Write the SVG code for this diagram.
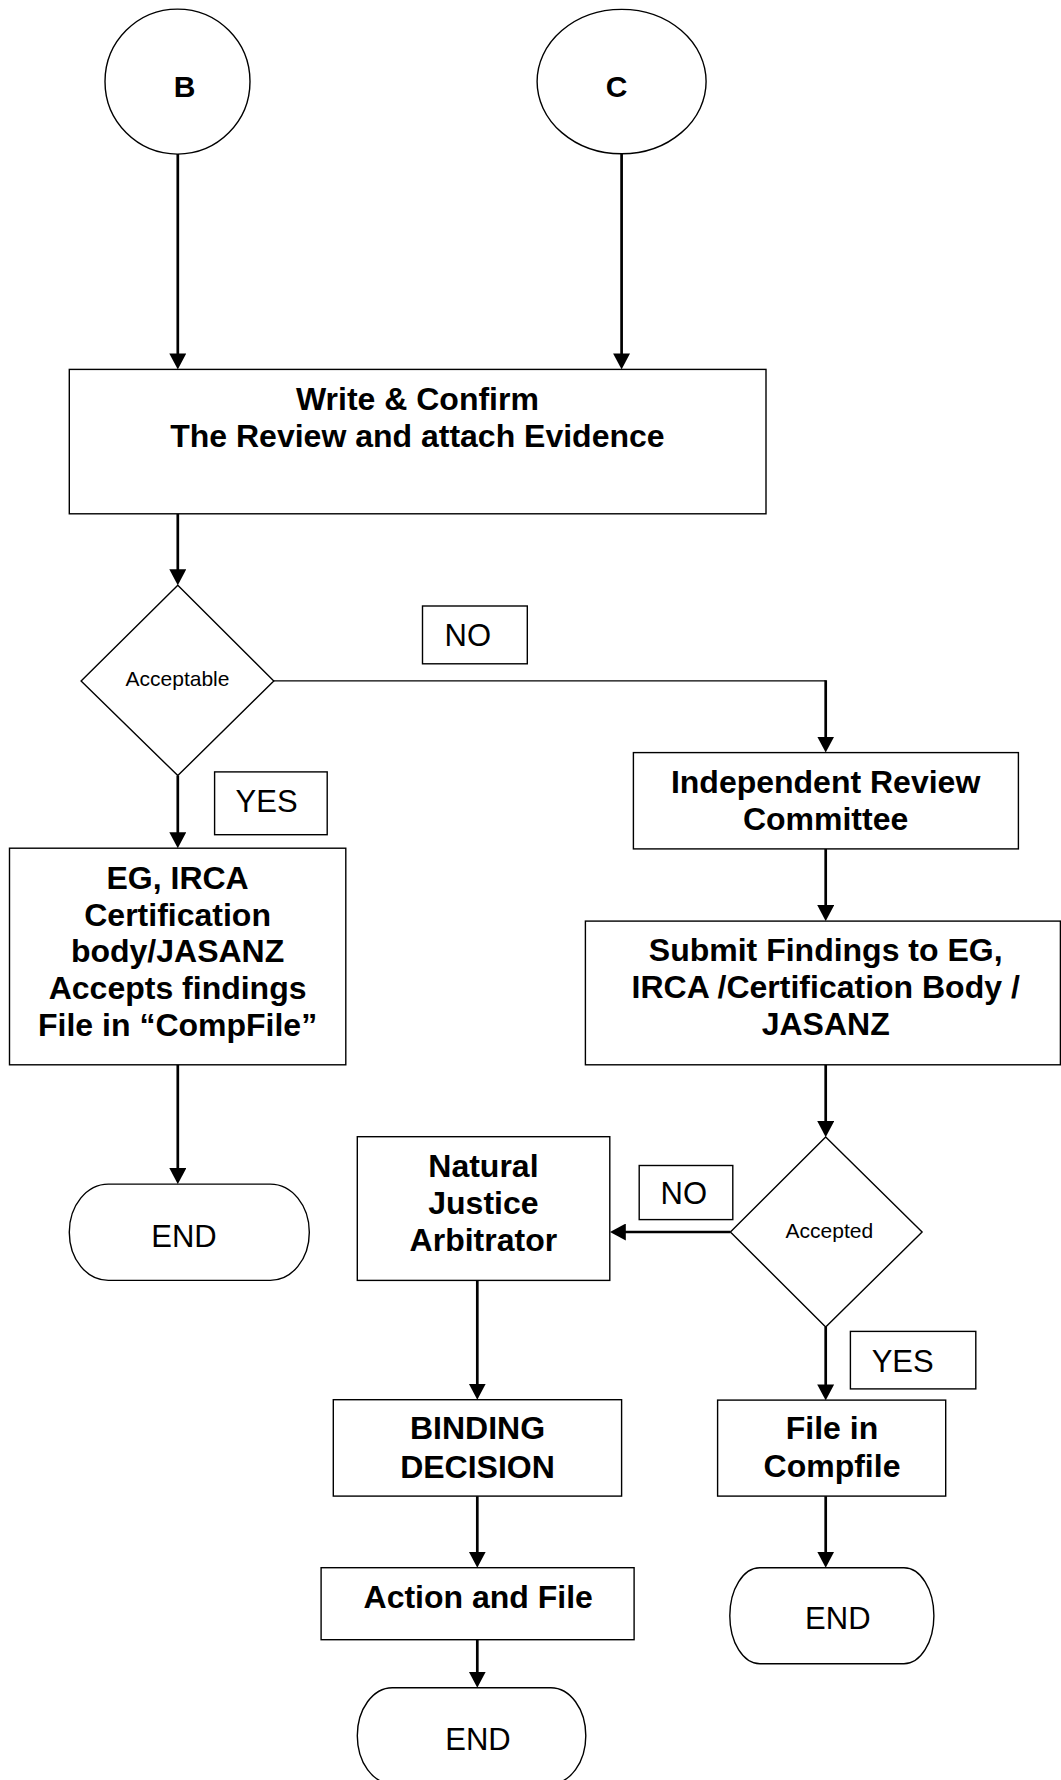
<svg xmlns="http://www.w3.org/2000/svg" width="1061" height="1780" viewBox="0 0 1061 1780">
<style>
.box{fill:#fff;stroke:#000;stroke-width:1.4}
.conn{fill:none;stroke:#000;stroke-width:2.7}
.thin{stroke-width:1.4}
.b{font-family:"Liberation Sans",Arial,sans-serif;font-weight:bold;font-size:32px;text-anchor:middle;fill:#000}
.bc{font-family:"Liberation Sans",Arial,sans-serif;font-weight:bold;font-size:30px;text-anchor:middle;fill:#000}
.r{font-family:"Liberation Sans",Arial,sans-serif;font-size:31px;fill:#000}
.rm{font-family:"Liberation Sans",Arial,sans-serif;font-size:31px;text-anchor:middle;fill:#000}
.s{font-family:"Liberation Sans",Arial,sans-serif;font-size:21px;text-anchor:middle;fill:#000}
</style>
<defs>
<marker id="ah" markerUnits="userSpaceOnUse" markerWidth="16" markerHeight="17" viewBox="0 0 16 17" refX="8" refY="8.5" orient="auto">
<path d="M0,0 L16,8.5 L0,17 z" fill="#000"/>
</marker>
</defs>
<rect width="1061" height="1780" fill="#fff"/>

<g id="connectors">
<path class="conn" d="M177.8,153.8 V361.4" marker-end="url(#ah)"/>
<path class="conn" d="M621.6,153.8 V361.4" marker-end="url(#ah)"/>
<path class="conn" d="M177.8,513.8 V577.3" marker-end="url(#ah)"/>
<path class="conn" d="M177.8,775.6 V840.2" marker-end="url(#ah)"/>
<path class="conn thin" d="M273.8,680.9 H825.7"/>
<path class="conn" d="M825.7,680.2 V744.6" marker-end="url(#ah)"/>
<path class="conn" d="M825.7,848.9 V913.1" marker-end="url(#ah)"/>
<path class="conn" d="M825.7,1064.8 V1129.1" marker-end="url(#ah)"/>
<path class="conn" d="M730.4,1232 H617.8" marker-end="url(#ah)"/>
<path class="conn" d="M825.7,1327 V1392.4" marker-end="url(#ah)"/>
<path class="conn" d="M825.7,1496.1 V1559.7" marker-end="url(#ah)"/>
<path class="conn" d="M177.8,1064.8 V1176.1" marker-end="url(#ah)"/>
<path class="conn" d="M477.3,1280.4 V1391.7" marker-end="url(#ah)"/>
<path class="conn" d="M477.3,1496.1 V1559.7" marker-end="url(#ah)"/>
<path class="conn" d="M477.3,1639.7 V1679.7" marker-end="url(#ah)"/>
</g>

<g id="nodeB">
<circle class="box" cx="177.5" cy="81.6" r="72.5"/>
<text class="bc" x="184.5" y="97.3">B</text>
</g>
<g id="nodeC">
<ellipse class="box" cx="621.6" cy="81.6" rx="84.5" ry="72.2"/>
<text class="bc" x="616.7" y="97.3">C</text>
</g>
<g id="writeConfirm">
<rect class="box" x="69.3" y="369.4" width="696.7" height="144.4"/>
<text class="b" x="417.4" y="410">Write &amp; Confirm</text>
<text class="b" x="417.4" y="446.8">The Review and attach Evidence</text>
</g>
<g id="acceptable">
<polygon class="box" points="177.8,585.3 273.8,680.9 177.8,775.6 81.1,680.9"/>
<text class="s" x="177.5" y="685.7">Acceptable</text>
</g>
<g id="labelNo1">
<rect class="box" x="422.5" y="606" width="104.8" height="57.8"/>
<text class="r" x="444.5" y="646.1">NO</text>
</g>
<g id="labelYes1">
<rect class="box" x="214.6" y="771.9" width="112.6" height="62.8"/>
<text class="r" x="235.6" y="811.7">YES</text>
</g>
<g id="egAccepts">
<rect class="box" x="9.5" y="848.2" width="336.3" height="216.6"/>
<text class="b" x="177.6" y="888.5">EG, IRCA</text>
<text class="b" x="177.6" y="925.5">Certification</text>
<text class="b" x="177.6" y="962.3">body/JASANZ</text>
<text class="b" x="177.6" y="999.2">Accepts findings</text>
<text class="b" x="177.6" y="1036.1">File in “CompFile”</text>
</g>
<g id="end1">
<rect class="box" x="69.3" y="1184.1" width="240" height="96.3" rx="39" ry="48"/>
<text class="rm" x="184" y="1247.3">END</text>
</g>
<g id="irc">
<rect class="box" x="633.4" y="752.6" width="385" height="96.3"/>
<text class="b" x="825.6" y="793.1">Independent Review</text>
<text class="b" x="825.6" y="830.3">Committee</text>
</g>
<g id="submit">
<rect class="box" x="585.4" y="921.1" width="475" height="143.7"/>
<text class="b" x="825.7" y="961">Submit Findings to EG,</text>
<text class="b" x="825.7" y="997.9">IRCA /Certification Body /</text>
<text class="b" x="825.7" y="1034.8">JASANZ</text>
</g>
<g id="accepted">
<polygon class="box" points="825.7,1137.1 922.1,1232 825.7,1327 730.4,1232"/>
<text class="s" x="829.3" y="1238.1">Accepted</text>
</g>
<g id="labelNo2">
<rect class="box" x="639.2" y="1165.5" width="93.6" height="54.1"/>
<text class="r" x="660.5" y="1204.4">NO</text>
</g>
<g id="natural">
<rect class="box" x="357.3" y="1136.7" width="252.5" height="143.7"/>
<text class="b" x="483.4" y="1176.5">Natural</text>
<text class="b" x="483.4" y="1213.5">Justice</text>
<text class="b" x="483.4" y="1251">Arbitrator</text>
</g>
<g id="labelYes2">
<rect class="box" x="850.4" y="1331.4" width="125.4" height="57.5"/>
<text class="r" x="871.7" y="1371.7">YES</text>
</g>
<g id="fileCompfile">
<rect class="box" x="717.6" y="1400.1" width="228.1" height="96"/>
<text class="b" x="832" y="1439.3">File in</text>
<text class="b" x="832" y="1477.1">Compfile</text>
</g>
<g id="end2">
<rect class="box" x="729.8" y="1567.7" width="204.1" height="96" rx="30" ry="48"/>
<text class="rm" x="837.8" y="1629.2">END</text>
</g>
<g id="binding">
<rect class="box" x="333.3" y="1399.7" width="288.3" height="96.4"/>
<text class="b" x="477.5" y="1439">BINDING</text>
<text class="b" x="477.5" y="1477.5">DECISION</text>
</g>
<g id="actionFile">
<rect class="box" x="321.1" y="1567.7" width="313" height="72"/>
<text class="b" x="478.2" y="1608.3">Action and File</text>
</g>
<g id="end3">
<rect class="box" x="357.3" y="1687.7" width="228.5" height="96" rx="35" ry="48"/>
<text class="rm" x="478" y="1750.3">END</text>
</g>
</svg>
